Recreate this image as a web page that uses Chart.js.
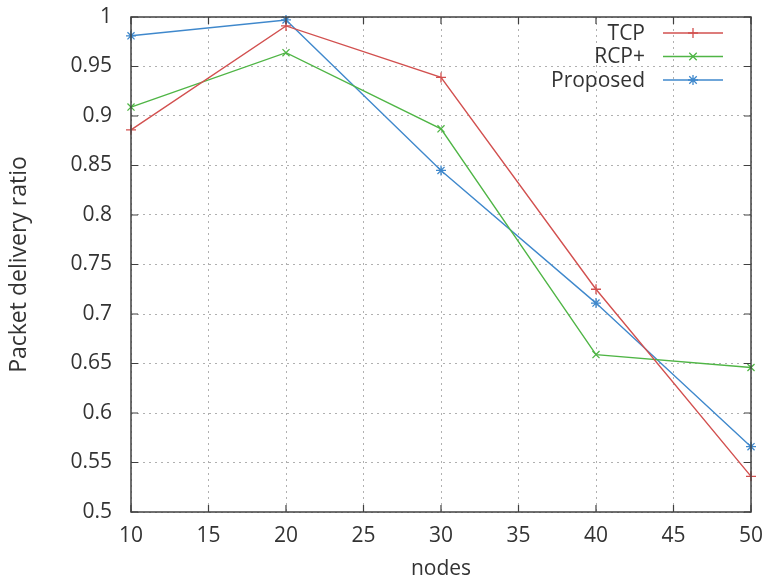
<!DOCTYPE html>
<html>
<head>
<meta charset="utf-8">
<script src="https://cdn.jsdelivr.net/npm/chart.js@4.4.1/dist/chart.umd.min.js"></script>
<style>
    html, body { margin: 0; padding: 0; background: #ffffff; }
    #wrap { width: 764px; height: 582px; }
</style>
</head>
<body>
<div id="wrap"><canvas id="chart" width="764" height="582"></canvas></div>
<script>
const nodes = [10, 20, 30, 40, 50];
const tcp = [0.886, 0.991, 0.939, 0.725, 0.536];
const rcpPlus = [0.909, 0.964, 0.887, 0.659, 0.646];
const proposed = [0.981, 0.997, 0.845, 0.711, 0.566];

const seriesNames = ["TCP", "RCP+", "Proposed"];
const xTitle = "nodes";
const yTitle = "Packet delivery ratio";

const colors = {
    tcp: "#d2504f",
    rcp: "#4fb545",
    proposed: "#3f88cc",
    text: "#333333",
    grid: "#b0b0b0",
    frame: "#404040"
};
const FONT = "'Open Sans', 'Liberation Sans', sans-serif";

function toPoints(values) {
    return nodes.map((n, i) => ({ x: n, y: values[i] }));
}

function drawMarker(ctx, style, x, y, r) {
    ctx.beginPath();
    if (style === "cross" || style === "star") {
        ctx.moveTo(x - r, y); ctx.lineTo(x + r, y);
        ctx.moveTo(x, y - r); ctx.lineTo(x, y + r);
    }
    if (style === "crossRot" || style === "star") {
        const d = r * 0.75;
        ctx.moveTo(x - d, y - d); ctx.lineTo(x + d, y + d);
        ctx.moveTo(x + d, y - d); ctx.lineTo(x - d, y + d);
    }
    ctx.stroke();
}

// gnuplot-like frame, mirrored inward ticks and a key at the top right
const framePlugin = {
    id: "frame",
    afterDraw(chart) {
        const { ctx, chartArea: a, scales } = chart;
        ctx.save();
        ctx.strokeStyle = colors.frame;
        ctx.lineWidth = 1.5;
        ctx.strokeRect(a.left, a.top, a.right - a.left, a.bottom - a.top);

        ctx.lineWidth = 1.2;
        const len = 7;
        ctx.beginPath();
        scales.x.ticks.forEach((t) => {
            const px = scales.x.getPixelForValue(t.value);
            ctx.moveTo(px, a.bottom); ctx.lineTo(px, a.bottom - len);
            ctx.moveTo(px, a.top); ctx.lineTo(px, a.top + len);
        });
        scales.y.ticks.forEach((t) => {
            const py = scales.y.getPixelForValue(t.value);
            ctx.moveTo(a.left, py); ctx.lineTo(a.left + len, py);
            ctx.moveTo(a.right, py); ctx.lineTo(a.right - len, py);
        });
        ctx.stroke();

        // key
        ctx.font = "21px " + FONT;
        ctx.textAlign = "right";
        ctx.textBaseline = "middle";
        const textRight = 645;
        const lineL = 663, lineR = 723;
        chart.data.datasets.forEach((ds, i) => {
            const y = 33 + i * 23.5;
            ctx.fillStyle = colors.text;
            ctx.fillText(ds.label, textRight, y + 1);
            ctx.strokeStyle = ds.borderColor;
            ctx.lineWidth = 1.3;
            ctx.beginPath();
            ctx.moveTo(lineL, y); ctx.lineTo(lineR, y);
            ctx.stroke();
            drawMarker(ctx, ds.pointStyle, (lineL + lineR) / 2, y, 5);
        });
        ctx.restore();
    }
};

function makeDataset(label, values, color, style) {
    return {
        label: label,
        data: toPoints(values),
        borderColor: color,
        backgroundColor: color,
        borderWidth: 1.4,
        pointStyle: style,
        pointRadius: 5,
        pointBorderWidth: 1.3,
        pointBorderColor: color,
        pointBackgroundColor: color,
        tension: 0,
        clip: 8
    };
}

new Chart(document.getElementById("chart"), {
    type: "line",
    data: {
        datasets: [
            makeDataset(seriesNames[0], tcp, colors.tcp, "cross"),
            makeDataset(seriesNames[1], rcpPlus, colors.rcp, "crossRot"),
            makeDataset(seriesNames[2], proposed, colors.proposed, "star")
        ]
    },
    options: {
        responsive: false,
        animation: false,
        layout: { padding: { top: 17, right: 13, left: 0, bottom: 0 } },
        plugins: {
            legend: { display: false },
            tooltip: { enabled: false }
        },
        scales: {
            x: {
                type: "linear",
                min: 10,
                max: 50,
                afterFit(scale) {
                    scale.height = 70;
                    scale.paddingLeft = 0;
                    scale.paddingRight = 0;
                },
                ticks: {
                    stepSize: 5,
                    padding: 11,
                    color: colors.text,
                    font: { family: FONT, size: 21 }
                },
                grid: { color: colors.grid, lineWidth: 1, drawTicks: false },
                border: { display: false, dash: [2, 4] },
                title: {
                    display: true,
                    text: xTitle,
                    color: colors.text,
                    font: { family: FONT, size: 21 },
                    padding: { top: 0, bottom: 0 }
                }
            },
            y: {
                min: 0.5,
                max: 1,
                afterFit(scale) {
                    scale.width = 131;
                    scale.paddingTop = 0;
                    scale.paddingBottom = 0;
                },
                ticks: {
                    stepSize: 0.05,
                    padding: 19,
                    color: colors.text,
                    font: { family: FONT, size: 21 },
                    callback: (v) => String(Number(v.toFixed(2)))
                },
                grid: { color: colors.grid, lineWidth: 1, drawTicks: false },
                border: { display: false, dash: [2, 4] },
                title: {
                    display: true,
                    text: yTitle,
                    color: colors.text,
                    font: { family: FONT, size: 23 },
                    padding: { top: 6, bottom: 0 }
                }
            }
        }
    },
    plugins: [framePlugin]
});
</script>
</body>
</html>
